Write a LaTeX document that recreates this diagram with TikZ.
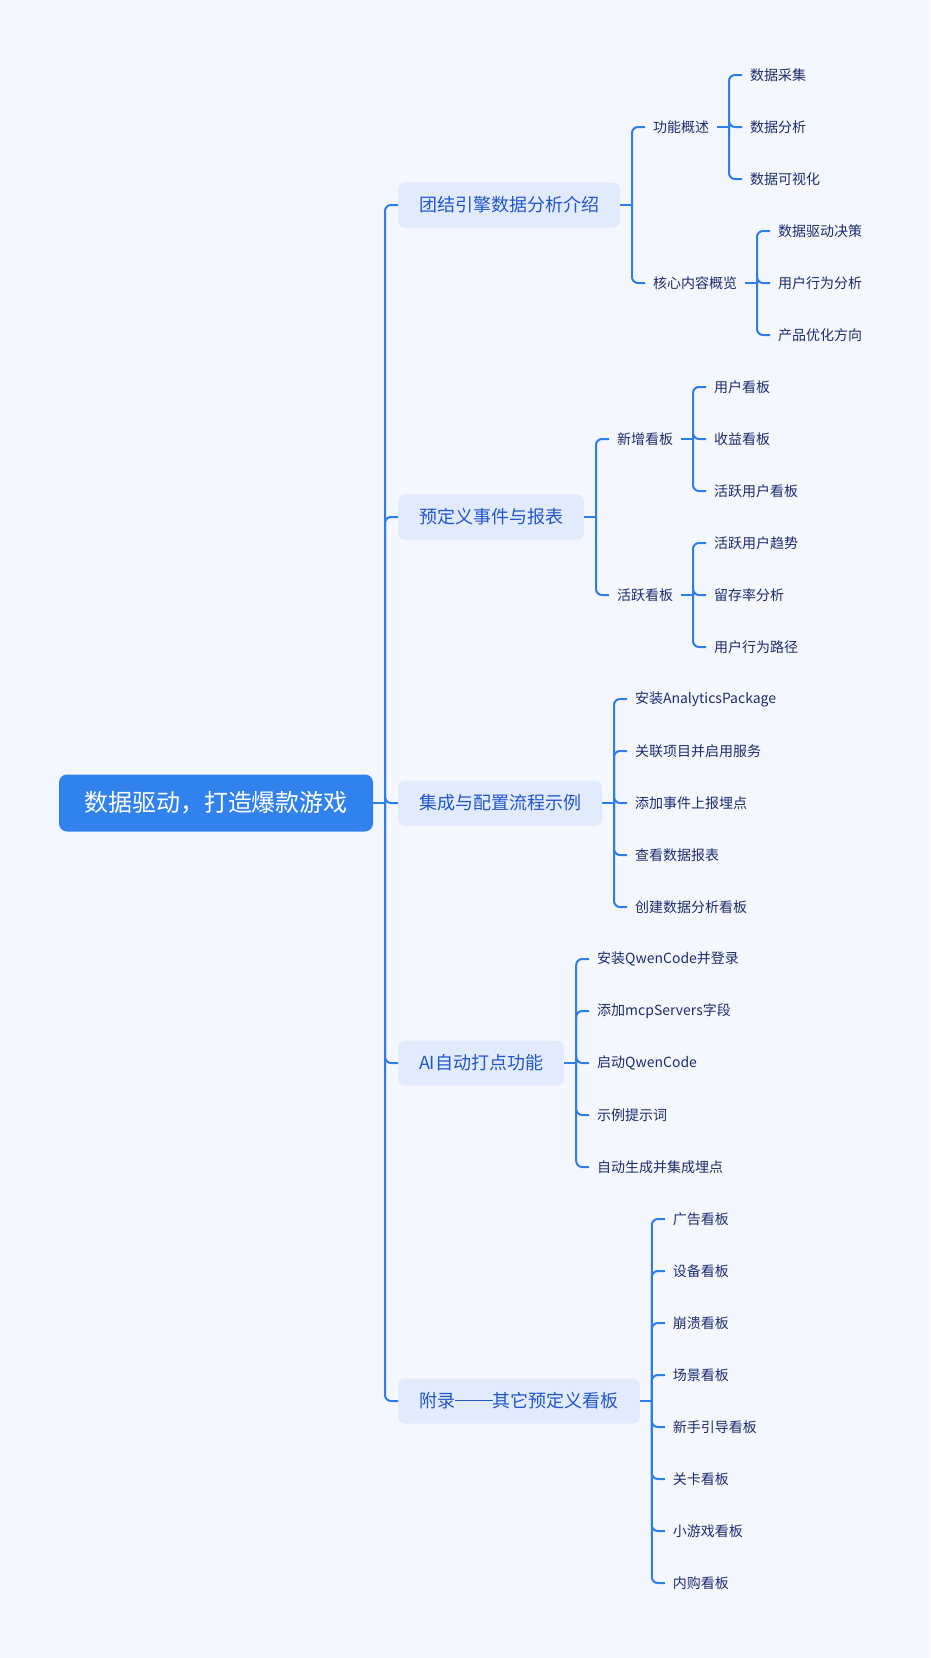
\documentclass[tikz,border=0pt]{standalone}
\usepackage{fontspec}
\setmainfont{Noto Sans CJK SC}
\usepackage{tikz}
\usetikzlibrary{calc,positioning}
\definecolor{bgpage}{HTML}{F5F7FE}
\definecolor{rootblue}{HTML}{3282EE}
\definecolor{topicfill}{HTML}{E2EAFD}
\definecolor{topictext}{HTML}{2257CC}
\definecolor{leaftext}{HTML}{1C2D6E}
\definecolor{linkblue}{HTML}{2F7DEB}
\tikzstyle{mroot}=[fill=rootblue,text=white,rounded corners=8pt,inner xsep=25pt,inner ysep=0pt,
                minimum height=57pt,outer sep=0pt,font=\fontsize{24}{28}\selectfont]
\tikzstyle{mtopic}=[fill=topicfill,text=topictext,rounded corners=7pt,inner xsep=21pt,inner ysep=0pt,
                minimum height=45pt,outer sep=0pt,anchor=west,font=\fontsize{18}{22}\selectfont]
\tikzstyle{mleaf}=[text=leaftext,inner sep=0pt,outer xsep=8pt,outer ysep=0pt,anchor=west,
                font=\fontsize{14}{17}\selectfont]
\tikzstyle{mlink}=[draw=linkblue,line width=2pt,rounded corners=6pt]
\newcommand{\branch}[2]{\draw[mlink] (#1.east) -- ++(12pt,0); \draw[mlink] ($(#1.east)+(12pt,0)$) |- (#2.west);}
\newcommand{\kid}[5]{\coordinate (rowy) at (0,{-75pt-52pt*#2}); \path (#1.east) ++(25pt,0) coordinate (colx);
  \node[#3] (#4) at (colx |- rowy) {#5}; \branch{#1}{#4}}
\newcommand{\longdash}{\rule[0.36em]{2.1em}{0.075em}}

\begin{document}
\begin{tikzpicture}
  \useasboundingbox (0,0) rectangle (930pt,-1658pt);
  \fill[bgpage] (0,0) rectangle (930pt,-1658pt);
  \node[mroot] (root) at (216pt,-803pt) {数据驱动，打造爆款游戏};
  % first level
  \kid{root}{2.5}{mtopic}{intro}{团结引擎数据分析介绍};
  \kid{root}{8.5}{mtopic}{event}{预定义事件与报表};
  \kid{root}{14}{mtopic}{setup}{集成与配置流程示例};
  \kid{root}{19}{mtopic}{ai}{AI自动打点功能};
  \kid{root}{25.5}{mtopic}{appx}{附录\longdash 其它预定义看板};
  % intro
  \kid{intro}{1}{mleaf}{func}{功能概述};
  \kid{intro}{4}{mleaf}{core}{核心内容概览};
  \kid{func}{0}{mleaf}{func0}{数据采集};
  \kid{func}{1}{mleaf}{func1}{数据分析};
  \kid{func}{2}{mleaf}{func2}{数据可视化};
  \kid{core}{3}{mleaf}{core0}{数据驱动决策};
  \kid{core}{4}{mleaf}{core1}{用户行为分析};
  \kid{core}{5}{mleaf}{core2}{产品优化方向};
  % event
  \kid{event}{7}{mleaf}{newb}{新增看板};
  \kid{event}{10}{mleaf}{actb}{活跃看板};
  \kid{newb}{6}{mleaf}{newb0}{用户看板};
  \kid{newb}{7}{mleaf}{newb1}{收益看板};
  \kid{newb}{8}{mleaf}{newb2}{活跃用户看板};
  \kid{actb}{9}{mleaf}{actb0}{活跃用户趋势};
  \kid{actb}{10}{mleaf}{actb1}{留存率分析};
  \kid{actb}{11}{mleaf}{actb2}{用户行为路径};
  % setup
  \kid{setup}{12}{mleaf}{setup0}{安装AnalyticsPackage};
  \kid{setup}{13}{mleaf}{setup1}{关联项目并启用服务};
  \kid{setup}{14}{mleaf}{setup2}{添加事件上报埋点};
  \kid{setup}{15}{mleaf}{setup3}{查看数据报表};
  \kid{setup}{16}{mleaf}{setup4}{创建数据分析看板};
  % ai
  \kid{ai}{17}{mleaf}{ai0}{安装QwenCode并登录};
  \kid{ai}{18}{mleaf}{ai1}{添加mcpServers字段};
  \kid{ai}{19}{mleaf}{ai2}{启动QwenCode};
  \kid{ai}{20}{mleaf}{ai3}{示例提示词};
  \kid{ai}{21}{mleaf}{ai4}{自动生成并集成埋点};
  % appx
  \kid{appx}{22}{mleaf}{appx0}{广告看板};
  \kid{appx}{23}{mleaf}{appx1}{设备看板};
  \kid{appx}{24}{mleaf}{appx2}{崩溃看板};
  \kid{appx}{25}{mleaf}{appx3}{场景看板};
  \kid{appx}{26}{mleaf}{appx4}{新手引导看板};
  \kid{appx}{27}{mleaf}{appx5}{关卡看板};
  \kid{appx}{28}{mleaf}{appx6}{小游戏看板};
  \kid{appx}{29}{mleaf}{appx7}{内购看板};
\end{tikzpicture}
\end{document}
